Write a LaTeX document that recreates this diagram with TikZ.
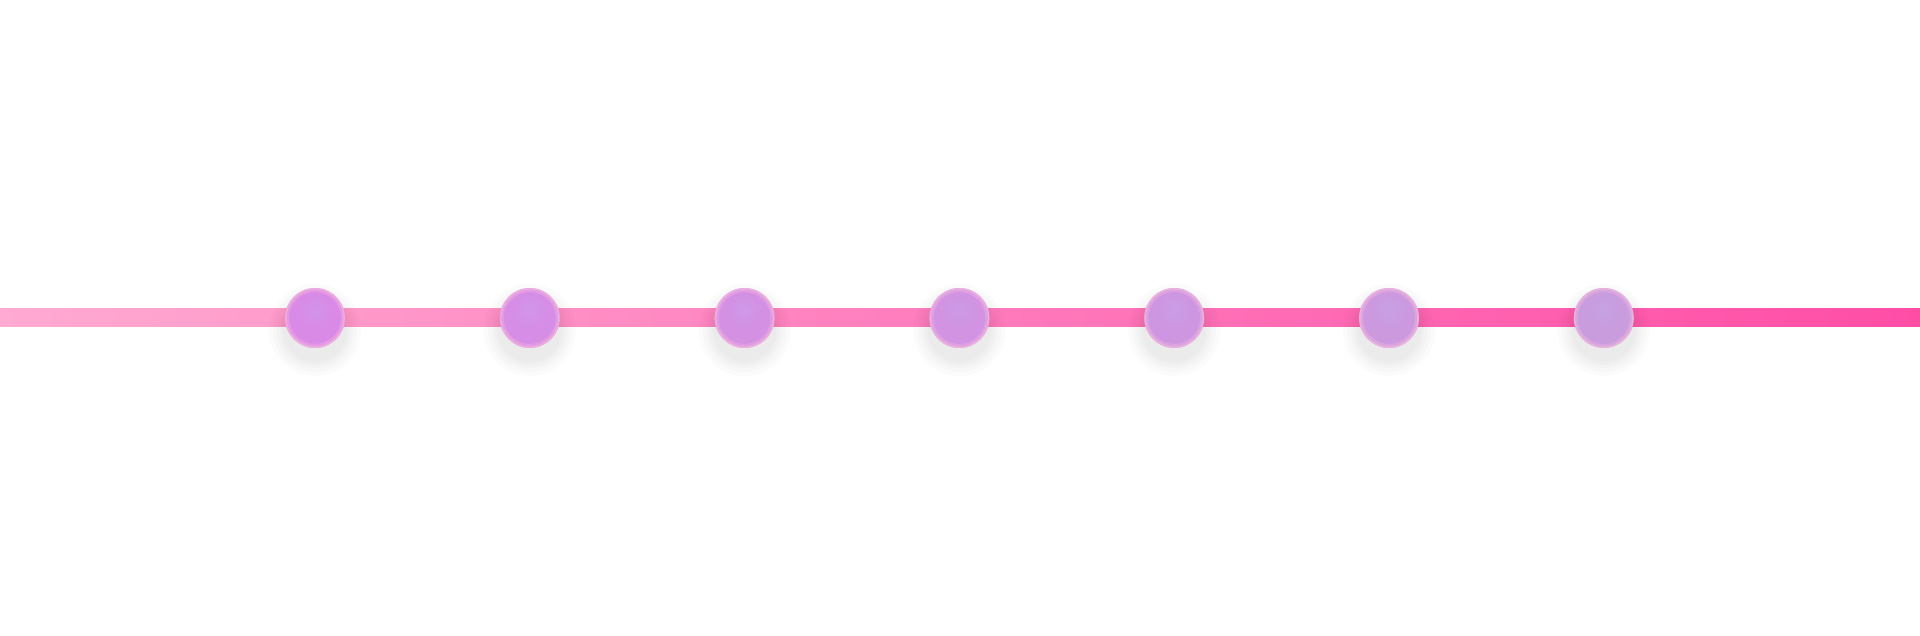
\documentclass[tikz,border=0pt]{standalone}
\definecolor{lineL}{HTML}{FFAAD2}
\definecolor{lineR}{HTML}{FF4DA6}
\definecolor{dotA}{HTML}{D98AE6}
\definecolor{dotB}{HTML}{C99CDE}
\definecolor{rim}{HTML}{FBC0DE}
\begin{document}
\begin{tikzpicture}[x=1pt,y=1pt,
  shadowdisc/.style={fill=black,opacity=0.014},
  rimline/.style={draw=rim,line width=1.5pt,opacity=0.6}]
\useasboundingbox (0,0) rectangle (1920,636);
\fill[white] (0,0) rectangle (1920,636);
\shade[left color=lineL,right color=lineR] (0,309) rectangle (1920,327);
\foreach \i in {0,...,6}{
  \pgfmathsetmacro{\cx}{315+214.8*\i}
  \pgfmathsetmacro{\mix}{100-\i*100/6}
  \colorlet{dotc}{dotA!\mix!dotB}
  \foreach \r in {46,42,38,35,32}{
    \fill[shadowdisc] (\cx,306) circle (\r);
  }
  \node[circle,minimum size=60pt,inner sep=0pt,fill=dotc] (d\i) at (\cx,318) {};
  \shade[inner color=dotc!85!blue!70!white,outer color=dotc,opacity=0.5] ([yshift=8pt]d\i.center) circle (18);
  \draw[rimline] (d\i.center) circle (29.2);
  \draw[rimline,line width=3pt,opacity=0.3] (d\i.center) circle (27.5);
}
\end{tikzpicture}
\end{document}
